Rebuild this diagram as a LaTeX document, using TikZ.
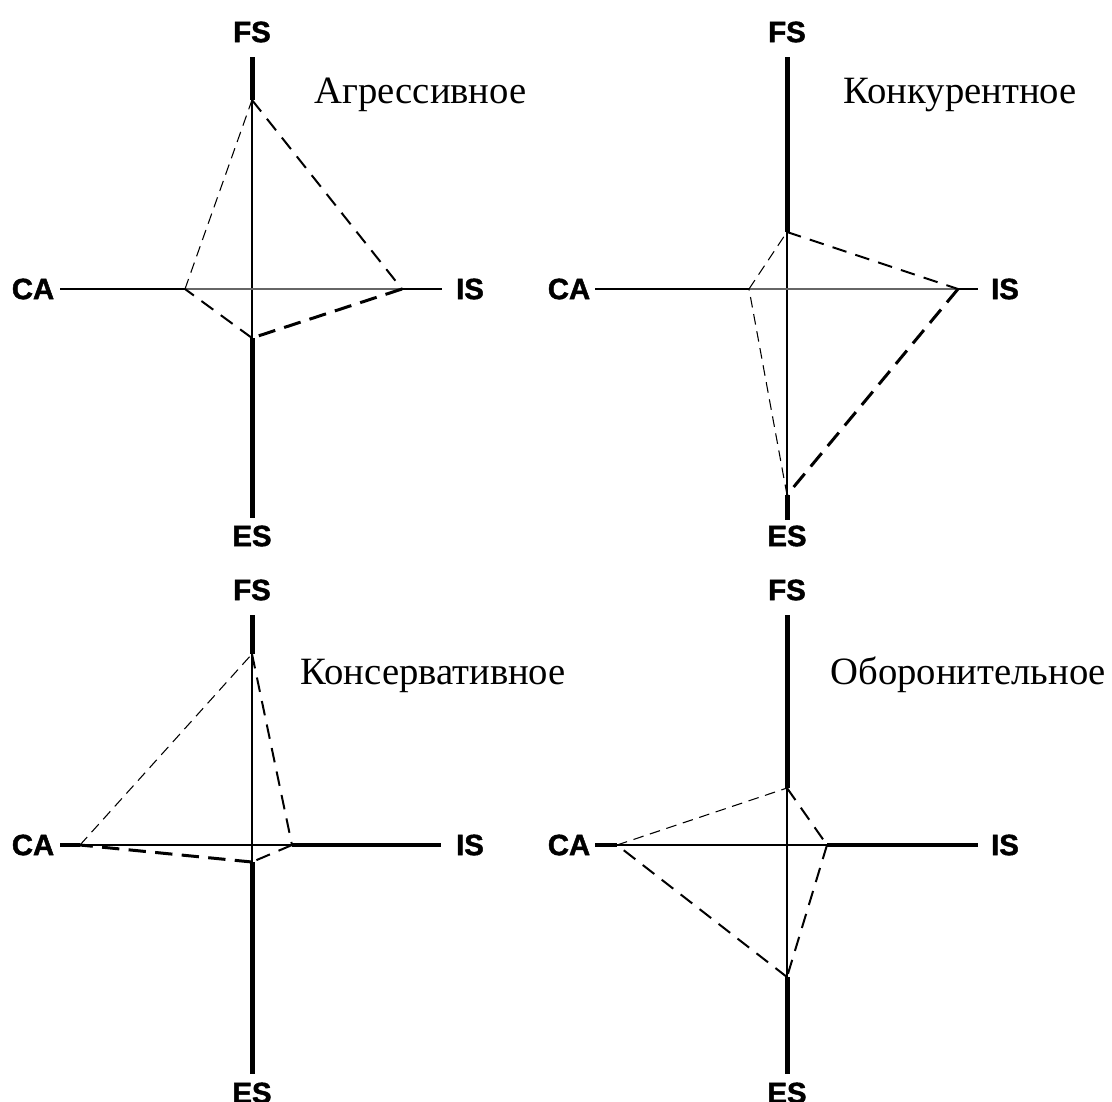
\documentclass[tikz,border=0pt]{standalone}
\usepackage{fontspec}
\setmainfont{Liberation Serif}
\newfontfamily\axisfont{Liberation Sans Bold}[FakeBold=1.6]

\tikzset{every picture/.style={line width=0.75pt}}
\tikzset{
  axlabel/.style={font=\axisfont\fontsize{22}{22}\selectfont, inner sep=0pt},
  title/.style={font=\fontsize{29}{32}\selectfont, anchor=base west, inner sep=0pt},
  axthin/.style={line width=0.9pt},
  axfaint/.style={line width=0.9pt, black!60},
  axmid/.style={line width=1.5pt},
  axbold/.style={line width=3pt},
  axheavy/.style={line width=3.75pt},
  dthin/.style={line width=0.8pt, dash pattern=on 8pt off 5pt},
  dmid/.style={line width=1.5pt, dash pattern=on 11pt off 7pt},
  dthick/.style={line width=2.25pt, dash pattern=on 13pt off 7pt},
}

\begin{document}
\begin{tikzpicture}[x=0.75pt,y=0.75pt,yscale=-1,xscale=1]
\clip (0,0) rectangle (1112,1101);

%% Агрессивное
\begin{scope}[shift={(252,289)}]
\coordinate (agFSe) at (0,-232);
\coordinate (agESe) at (0,229);
\coordinate (agCAe) at (-192,0);
\coordinate (agISe) at (190,0);
\coordinate (agFS) at (0,-189);
\coordinate (agIS) at (150,0);
\coordinate (agES) at (0,49);
\coordinate (agCA) at (-67,0);
% Text Node
\node[axlabel] (agFSl) at (0,-257) {FS};
\node[axlabel] (agESl) at (0,247) {ES};
\node[axlabel] (agCAl) at (-219,0) {CA};
\node[axlabel] (agISl) at (218,0) {IS};
% Axis
\draw[axheavy] (agFSe) -- (agFS);
\draw[axthin] (agFS) -- (agES);
\draw[axheavy] (agES) -- (agESe);
\draw[axmid] (agCAe) -- (agCA);
\draw[axfaint] (agCA) -- (agIS);
\draw[axmid] (agIS) -- (agISe);
% Connection
\draw[dthin] (agCA) -- (agFS);
\draw[dmid] (agFS) -- (agIS);
\draw[dthick] (agIS) -- (agES);
\draw[dmid] (agES) -- (agCA);
\end{scope}
\node[title] (agT) at (314,103) {Агрессивное};

%% Конкурентное
\begin{scope}[shift={(787,289)}]
\coordinate (koFSe) at (0,-232);
\coordinate (koESe) at (0,231);
\coordinate (koCAe) at (-192,0);
\coordinate (koISe) at (191,0);
\coordinate (koFS) at (0,-57);
\coordinate (koIS) at (171,0);
\coordinate (koES) at (0,206);
\coordinate (koCA) at (-38,0);
% Text Node
\node[axlabel] (koFSl) at (0,-257) {FS};
\node[axlabel] (koESl) at (0,247) {ES};
\node[axlabel] (koCAl) at (-218,0) {CA};
\node[axlabel] (koISl) at (218,0) {IS};
% Axis
\draw[axheavy] (koFSe) -- (koFS);
\draw[axthin] (koFS) -- (koES);
\draw[axheavy] (koES) -- (koESe);
\draw[axmid] (koCAe) -- (koCA);
\draw[axfaint] (koCA) -- (koIS);
\draw[axmid] (koIS) -- (koISe);
% Connection
\draw[dthin] (koCA) -- (koFS);
\draw[dmid] (koFS) -- (koIS);
\draw[dthick] (koIS) -- (koES);
\draw[dthin] (koES) -- (koCA);
\end{scope}
\node[title] (koT) at (843,103) {Конкурентное};

%% Консервативное
\begin{scope}[shift={(252,845)}]
\coordinate (ksFSe) at (0,-230);
\coordinate (ksESe) at (0,229);
\coordinate (ksCAe) at (-192,0);
\coordinate (ksISe) at (189,0);
\coordinate (ksFS) at (0,-191);
\coordinate (ksIS) at (40,0);
\coordinate (ksES) at (0,17);
\coordinate (ksCA) at (-172,0);
% Text Node
\node[axlabel] (ksFSl) at (0,-255) {FS};
\node[axlabel] (ksESl) at (0,248) {ES};
\node[axlabel] (ksCAl) at (-219,0) {CA};
\node[axlabel] (ksISl) at (218,0) {IS};
% Axis
\draw[axheavy] (ksFSe) -- (ksFS);
\draw[axthin] (ksFS) -- (ksES);
\draw[axheavy] (ksES) -- (ksESe);
\draw[axbold] (ksCAe) -- (ksCA);
\draw[axthin] (ksCA) -- (ksIS);
\draw[axbold] (ksIS) -- (ksISe);
% Connection
\draw[dthin] (ksCA) -- (ksFS);
\draw[dmid] (ksFS) -- (ksIS);
\draw[dmid] (ksIS) -- (ksES);
\draw[dthick] (ksES) -- (ksCA);
\end{scope}
\node[title] (ksT) at (300,684) {Консервативное};

%% Оборонительное
\begin{scope}[shift={(787,845)}]
\coordinate (obFSe) at (0,-230);
\coordinate (obESe) at (0,229);
\coordinate (obCAe) at (-192,0);
\coordinate (obISe) at (191,0);
\coordinate (obFS) at (0,-57);
\coordinate (obIS) at (40,0);
\coordinate (obES) at (0,132);
\coordinate (obCA) at (-170,0);
% Text Node
\node[axlabel] (obFSl) at (0,-255) {FS};
\node[axlabel] (obESl) at (0,248) {ES};
\node[axlabel] (obCAl) at (-218,0) {CA};
\node[axlabel] (obISl) at (218,0) {IS};
% Axis
\draw[axheavy] (obFSe) -- (obFS);
\draw[axthin] (obFS) -- (obES);
\draw[axheavy] (obES) -- (obESe);
\draw[axbold] (obCAe) -- (obCA);
\draw[axthin] (obCA) -- (obIS);
\draw[axbold] (obIS) -- (obISe);
% Connection
\draw[dthin] (obCA) -- (obFS);
\draw[dmid] (obFS) -- (obIS);
\draw[dmid] (obIS) -- (obES);
\draw[dmid] (obES) -- (obCA);
\end{scope}
\node[title] (obT) at (830,684) {Оборонительное};

\end{tikzpicture}
\end{document}
